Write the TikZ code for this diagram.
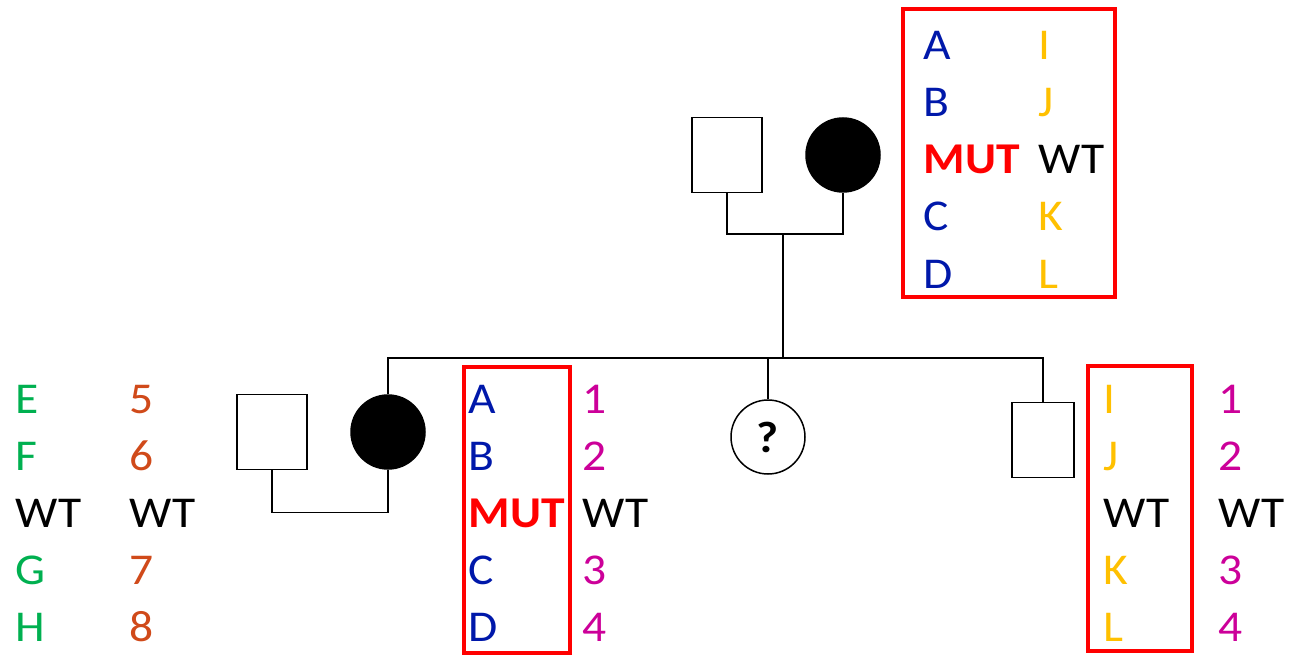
\documentclass[tikz,border=0pt]{standalone}
\usepackage{fontspec}
\setmainfont{Carlito}[FakeStretch=1.08]
\usetikzlibrary{positioning,calc}
\definecolor{hapblue}{RGB}{0,24,170}
\definecolor{hapgold}{RGB}{255,192,0}
\definecolor{hapgreen}{RGB}{0,176,80}
\definecolor{haprust}{RGB}{208,74,26}
\definecolor{hapmag}{RGB}{204,0,153}
\definecolor{hapred}{RGB}{255,0,0}
\tikzset{
  male/.style={draw,line width=1.5pt,minimum width=70pt,minimum height=75pt,inner sep=0pt},
  female/.style={draw,circle,line width=1.5pt,minimum size=74pt,inner sep=0pt},
  affected/.style={fill=black},
  hapbox/.style={draw=hapred,line width=4pt},
  allele/.style={anchor=base west,inner sep=0pt,font=\fontsize{44}{50}\selectfont},
  mut/.style={allele,text=hapred,font=\fontsize{44}{50}\selectfont\bfseries},
}

\begin{document}
\begin{tikzpicture}[x=1pt,y=-1pt,line width=1.5pt]
\useasboundingbox (0,0) rectangle (1291,655);

% parents
\node[male] (gf) at (727,155) {};
\node[female,affected] (gm) at (843,155) {};
\coordinate (m1) at (783,234);
\coordinate (bar) at (783,358);

% children
\node[female,affected] (d1) at (388,432) {};
\node[male] (h1) at (272,432) {};
\node[female] (q) at (768,437) {\fontsize{44}{50}\selectfont\bfseries ?};
\node[male,minimum width=62pt] (s1) at (1043,440) {};
\coordinate (barL) at (388,358);
\coordinate (barR) at (1043,358);

\draw (gf.south) -- ++(0,41) -| (gm.south);
\draw (m1) -- (bar);
\draw (d1.north) |- (barR) -- (s1.north);
\draw (q.north) -- (q.north |- barL);
\draw (h1.south) -- ++(0,42) -| (d1.south);

% haplotype boxes
\draw[hapbox] (903,9) rectangle (1115,297);
\draw[hapbox] (464,367) rectangle (570,653);
\draw[hapbox] (1088,366) rectangle (1192,651);

% grandmother
\foreach \t/\i in {A/0,B/1,C/3,D/4}
  \node[allele,text=hapblue] (gA\i) at (923,60+57*\i) {\t};
\node[mut] (gmut) at (923,174) {MUT};
\foreach \t/\c [count=\i from 0] in {I/hapgold,J/hapgold,WT/black,K/hapgold,L/hapgold}
  \node[allele,text=\c] (gB\i) at (1038,60+57*\i) {\t};

% spouse
\foreach \t/\c [count=\i from 0] in {E/hapgreen,F/hapgreen,WT/black,G/hapgreen,H/hapgreen}
  \node[allele,text=\c] (hA\i) at (15,413+57*\i) {\t};
\foreach \t/\c [count=\i from 0] in {5/haprust,6/haprust,WT/black,7/haprust,8/haprust}
  \node[allele,text=\c] (hB\i) at (129,413+57*\i) {\t};

% daughter
\foreach \t/\i in {A/0,B/1,C/3,D/4}
  \node[allele,text=hapblue] (dA\i) at (468,413+57*\i) {\t};
\node[mut] (dmut) at (468,527) {MUT};
\foreach \t/\c [count=\i from 0] in {1/hapmag,2/hapmag,WT/black,3/hapmag,4/hapmag}
  \node[allele,text=\c] (dB\i) at (582,413+57*\i) {\t};

% son
\foreach \t/\c [count=\i from 0] in {I/hapgold,J/hapgold,WT/black,K/hapgold,L/hapgold}
  \node[allele,text=\c] (sA\i) at (1103,413+57*\i) {\t};
\foreach \t/\c [count=\i from 0] in {1/hapmag,2/hapmag,WT/black,3/hapmag,4/hapmag}
  \node[allele,text=\c] (sB\i) at (1218,413+57*\i) {\t};

\end{tikzpicture}
\end{document}
